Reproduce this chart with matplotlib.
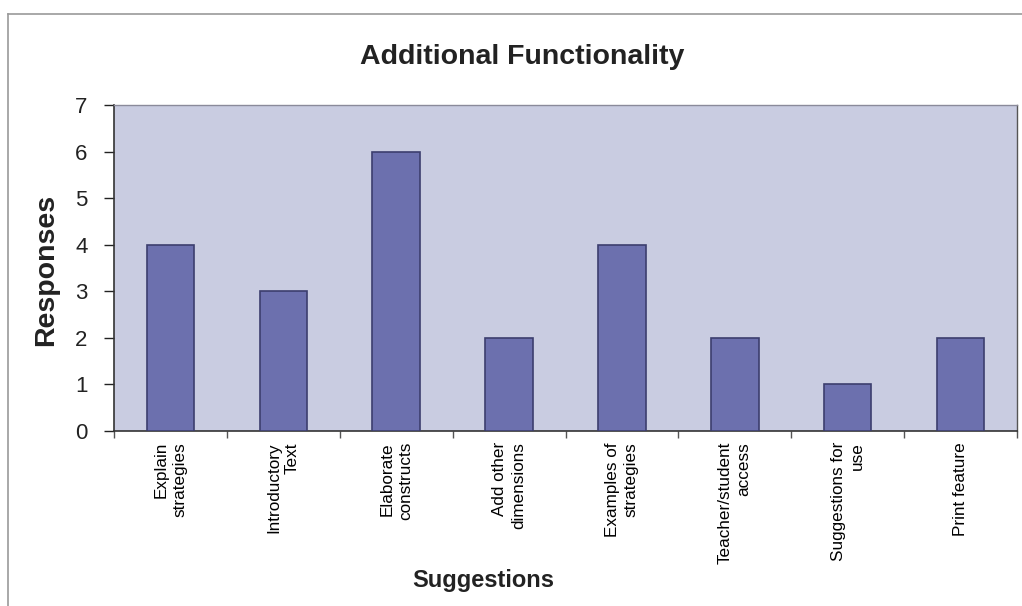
import matplotlib
matplotlib.use("Agg")
import matplotlib.pyplot as plt
from matplotlib.lines import Line2D
import numpy as np

categories = ["Explain\nstrategies", "Introductory\nText", "Elaborate\nconstructs",
              "Add other\ndimensions", "Examples of\nstrategies", "Teacher/student\naccess",
              "Suggestions for\nuse", "Print feature"]
responses = [4, 3, 6, 2, 4, 2, 1, 2]
yticks = [0, 1, 2, 3, 4, 5, 6, 7]

plt.rcParams['font.family'] = ['Liberation Sans', 'DejaVu Sans']

W, H = 1022, 606
fig = plt.figure(figsize=(W / 100, H / 100), dpi=100)
fig.patch.set_facecolor('white')

# outer chart frame (top and left edges)
fig.add_artist(Line2D([8 / W, 1.0], [1 - 14 / H, 1 - 14 / H], color='#9a9a9a', lw=1.2))
fig.add_artist(Line2D([8 / W, 8 / W], [0, 1 - 14 / H], color='#9a9a9a', lw=1.2))

left, right, top, bottom = 114, 1017, 105, 431
ax = fig.add_axes([left / W, 1 - bottom / H, (right - left) / W, (bottom - top) / H])
ax.set_facecolor('#c9cce1')

x = np.arange(len(categories))
ax.bar(x, responses, width=0.42, color='#6c70ae', edgecolor='#3c3e6e', linewidth=1.2, zorder=3)

ax.set_xlim(-0.5, len(categories) - 0.5)
ax.set_ylim(0, 7)
ax.set_yticks(yticks)
ax.set_yticklabels([str(v) for v in yticks], fontsize=16)
ax.tick_params(axis='y', direction='out', length=7, width=1, pad=12, colors='#222222')

ax.set_xticks(x)
ax.set_xticklabels(categories, rotation=90, fontsize=12.3, ha='center', va='top',
                   multialignment='right', linespacing=1.3)
ax.tick_params(axis='x', length=0, pad=8)
ax.set_xticks(np.arange(len(categories) + 1) - 0.5, minor=True)
ax.tick_params(axis='x', which='minor', direction='out', length=5, width=1, color='#555555')

for s in ['left', 'bottom']:
    ax.spines[s].set_color('#333333')
    ax.spines[s].set_linewidth(1.2)
ax.spines['top'].set_color('#8a8a9a')
ax.spines['top'].set_linewidth(1)
ax.spines['right'].set_color('#555555')
ax.spines['right'].set_linewidth(1)

fig.text(522 / W, 1 - 57 / H, "Additional Functionality", ha='center', va='center',
         fontsize=20.5, fontweight='bold', color='#222222')
fig.text(46 / W, 1 - 270 / H, "Responses", ha='center', va='center', rotation=90,
         fontsize=20.5, fontweight='bold', color='#222222')
fig.text(483 / W, 1 - 580 / H, "Suggestions", ha='center', va='center',
         fontsize=17, fontweight='bold', color='#222222')

fig.savefig("out.png", dpi=100, facecolor='white')
